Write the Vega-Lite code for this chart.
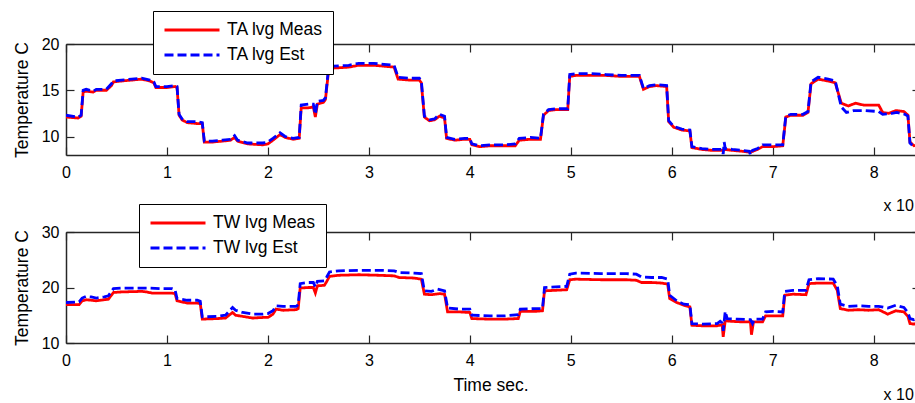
{
"$schema":"https://vega.github.io/schema/vega-lite/v6.json",
"padding":{"left":13,"top":10,"right":0,"bottom":0},
"background":"white",
"bounds":"flush",
"spacing":77,
"config":{
 "font":"Liberation Sans",
 "view":{"stroke":null},
 "axis":{"labelFont":"Liberation Sans","labelFontSize":16,"labelColor":"black","titleFont":"Liberation Sans","titleFontSize":17.5,"titleFontWeight":"normal","titleColor":"black","grid":false,"domainColor":"#262626","tickColor":"#262626","domainWidth":1.5,"tickWidth":1.2,"labelFlush":false,"labelOverlap":false},
 "title":{"font":"Liberation Sans","fontSize":16,"fontWeight":"normal","color":"black"},
 "legend":{"title":null,"symbolType":"stroke","symbolSize":3025,"symbolStrokeWidth":2.8,"labelFontSize":17.5,"labelFont":"Liberation Sans","labelColor":"black","strokeColor":"black","fillColor":"white","padding":10,"rowPadding":7,"clipHeight":18,"labelOffset":6,"labelLimit":300,"cornerRadius":0}
},
"vconcat":[
{
 "width":849,"height":111,
 "title":{"text":"x 10","orient":"bottom","anchor":"end","align":"left","dx":-32,"offset":18},
 "data":{"values":[
{"t":0.00,"v":12.1,"s":"TA lvg Meas"},{"t":0.12,"v":12.0,"s":"TA lvg Meas"},{"t":0.15,"v":12.2,"s":"TA lvg Meas"},{"t":0.17,"v":14.8,"s":"TA lvg Meas"},{"t":0.20,"v":14.9,"s":"TA lvg Meas"},{"t":0.27,"v":14.8,"s":"TA lvg Meas"},{"t":0.30,"v":15.0,"s":"TA lvg Meas"},{"t":0.40,"v":15.0,"s":"TA lvg Meas"},{"t":0.45,"v":15.5,"s":"TA lvg Meas"},{"t":0.47,"v":15.9,"s":"TA lvg Meas"},{"t":0.55,"v":16.0,"s":"TA lvg Meas"},{"t":0.65,"v":16.1,"s":"TA lvg Meas"},{"t":0.75,"v":16.2,"s":"TA lvg Meas"},{"t":0.83,"v":16.0,"s":"TA lvg Meas"},{"t":0.87,"v":15.8,"s":"TA lvg Meas"},{"t":0.89,"v":15.3,"s":"TA lvg Meas"},{"t":1.00,"v":15.3,"s":"TA lvg Meas"},{"t":1.08,"v":15.4,"s":"TA lvg Meas"},{"t":1.10,"v":15.3,"s":"TA lvg Meas"},{"t":1.12,"v":12.3,"s":"TA lvg Meas"},{"t":1.15,"v":11.8,"s":"TA lvg Meas"},{"t":1.20,"v":11.5,"s":"TA lvg Meas"},{"t":1.30,"v":11.4,"s":"TA lvg Meas"},{"t":1.35,"v":11.4,"s":"TA lvg Meas"},{"t":1.37,"v":9.4,"s":"TA lvg Meas"},{"t":1.45,"v":9.4,"s":"TA lvg Meas"},{"t":1.55,"v":9.5,"s":"TA lvg Meas"},{"t":1.63,"v":9.6,"s":"TA lvg Meas"},{"t":1.67,"v":9.9,"s":"TA lvg Meas"},{"t":1.70,"v":9.5,"s":"TA lvg Meas"},{"t":1.80,"v":9.2,"s":"TA lvg Meas"},{"t":1.95,"v":9.1,"s":"TA lvg Meas"},{"t":2.00,"v":9.2,"s":"TA lvg Meas"},{"t":2.05,"v":9.6,"s":"TA lvg Meas"},{"t":2.12,"v":10.2,"s":"TA lvg Meas"},{"t":2.17,"v":9.9,"s":"TA lvg Meas"},{"t":2.25,"v":9.7,"s":"TA lvg Meas"},{"t":2.31,"v":9.8,"s":"TA lvg Meas"},{"t":2.33,"v":13.1,"s":"TA lvg Meas"},{"t":2.40,"v":13.1,"s":"TA lvg Meas"},{"t":2.45,"v":13.2,"s":"TA lvg Meas"},{"t":2.47,"v":12.1,"s":"TA lvg Meas"},{"t":2.49,"v":13.5,"s":"TA lvg Meas"},{"t":2.55,"v":13.7,"s":"TA lvg Meas"},{"t":2.57,"v":14.0,"s":"TA lvg Meas"},{"t":2.60,"v":17.0,"s":"TA lvg Meas"},{"t":2.65,"v":17.4,"s":"TA lvg Meas"},{"t":2.80,"v":17.5,"s":"TA lvg Meas"},{"t":2.90,"v":17.7,"s":"TA lvg Meas"},{"t":3.05,"v":17.7,"s":"TA lvg Meas"},{"t":3.15,"v":17.6,"s":"TA lvg Meas"},{"t":3.25,"v":17.5,"s":"TA lvg Meas"},{"t":3.29,"v":16.2,"s":"TA lvg Meas"},{"t":3.40,"v":16.1,"s":"TA lvg Meas"},{"t":3.50,"v":16.1,"s":"TA lvg Meas"},{"t":3.52,"v":15.8,"s":"TA lvg Meas"},{"t":3.55,"v":12.1,"s":"TA lvg Meas"},{"t":3.60,"v":11.7,"s":"TA lvg Meas"},{"t":3.65,"v":11.8,"s":"TA lvg Meas"},{"t":3.70,"v":12.2,"s":"TA lvg Meas"},{"t":3.75,"v":12.0,"s":"TA lvg Meas"},{"t":3.77,"v":9.8,"s":"TA lvg Meas"},{"t":3.85,"v":9.6,"s":"TA lvg Meas"},{"t":3.95,"v":9.7,"s":"TA lvg Meas"},{"t":4.00,"v":9.7,"s":"TA lvg Meas"},{"t":4.02,"v":9.1,"s":"TA lvg Meas"},{"t":4.10,"v":8.9,"s":"TA lvg Meas"},{"t":4.20,"v":9.0,"s":"TA lvg Meas"},{"t":4.35,"v":9.0,"s":"TA lvg Meas"},{"t":4.45,"v":9.0,"s":"TA lvg Meas"},{"t":4.49,"v":9.6,"s":"TA lvg Meas"},{"t":4.60,"v":9.7,"s":"TA lvg Meas"},{"t":4.70,"v":9.7,"s":"TA lvg Meas"},{"t":4.73,"v":12.3,"s":"TA lvg Meas"},{"t":4.78,"v":12.8,"s":"TA lvg Meas"},{"t":4.85,"v":12.9,"s":"TA lvg Meas"},{"t":4.97,"v":12.9,"s":"TA lvg Meas"},{"t":4.99,"v":16.5,"s":"TA lvg Meas"},{"t":5.05,"v":16.6,"s":"TA lvg Meas"},{"t":5.20,"v":16.6,"s":"TA lvg Meas"},{"t":5.35,"v":16.6,"s":"TA lvg Meas"},{"t":5.50,"v":16.5,"s":"TA lvg Meas"},{"t":5.68,"v":16.5,"s":"TA lvg Meas"},{"t":5.72,"v":15.1,"s":"TA lvg Meas"},{"t":5.78,"v":15.4,"s":"TA lvg Meas"},{"t":5.85,"v":15.5,"s":"TA lvg Meas"},{"t":5.95,"v":15.4,"s":"TA lvg Meas"},{"t":5.97,"v":11.6,"s":"TA lvg Meas"},{"t":6.02,"v":11.0,"s":"TA lvg Meas"},{"t":6.10,"v":10.7,"s":"TA lvg Meas"},{"t":6.18,"v":10.6,"s":"TA lvg Meas"},{"t":6.20,"v":8.8,"s":"TA lvg Meas"},{"t":6.30,"v":8.6,"s":"TA lvg Meas"},{"t":6.40,"v":8.5,"s":"TA lvg Meas"},{"t":6.50,"v":8.5,"s":"TA lvg Meas"},{"t":6.53,"v":8.6,"s":"TA lvg Meas"},{"t":6.60,"v":8.5,"s":"TA lvg Meas"},{"t":6.70,"v":8.4,"s":"TA lvg Meas"},{"t":6.78,"v":8.3,"s":"TA lvg Meas"},{"t":6.85,"v":8.6,"s":"TA lvg Meas"},{"t":6.90,"v":8.9,"s":"TA lvg Meas"},{"t":7.00,"v":8.9,"s":"TA lvg Meas"},{"t":7.10,"v":9.0,"s":"TA lvg Meas"},{"t":7.13,"v":12.1,"s":"TA lvg Meas"},{"t":7.18,"v":12.3,"s":"TA lvg Meas"},{"t":7.30,"v":12.3,"s":"TA lvg Meas"},{"t":7.35,"v":12.6,"s":"TA lvg Meas"},{"t":7.38,"v":15.7,"s":"TA lvg Meas"},{"t":7.45,"v":16.2,"s":"TA lvg Meas"},{"t":7.55,"v":16.0,"s":"TA lvg Meas"},{"t":7.62,"v":15.8,"s":"TA lvg Meas"},{"t":7.68,"v":13.6,"s":"TA lvg Meas"},{"t":7.75,"v":13.3,"s":"TA lvg Meas"},{"t":7.82,"v":13.6,"s":"TA lvg Meas"},{"t":7.90,"v":13.4,"s":"TA lvg Meas"},{"t":8.05,"v":13.4,"s":"TA lvg Meas"},{"t":8.09,"v":12.6,"s":"TA lvg Meas"},{"t":8.15,"v":12.5,"s":"TA lvg Meas"},{"t":8.22,"v":12.8,"s":"TA lvg Meas"},{"t":8.30,"v":12.7,"s":"TA lvg Meas"},{"t":8.34,"v":12.3,"s":"TA lvg Meas"},{"t":8.36,"v":9.4,"s":"TA lvg Meas"},{"t":8.40,"v":9.0,"s":"TA lvg Meas"},{"t":8.45,"v":9.1,"s":"TA lvg Meas"},
{"t":0.00,"v":12.3,"s":"TA lvg Est"},{"t":0.12,"v":12.1,"s":"TA lvg Est"},{"t":0.15,"v":12.3,"s":"TA lvg Est"},{"t":0.17,"v":15.0,"s":"TA lvg Est"},{"t":0.20,"v":15.1,"s":"TA lvg Est"},{"t":0.27,"v":14.9,"s":"TA lvg Est"},{"t":0.30,"v":15.1,"s":"TA lvg Est"},{"t":0.40,"v":15.1,"s":"TA lvg Est"},{"t":0.45,"v":15.7,"s":"TA lvg Est"},{"t":0.47,"v":16.0,"s":"TA lvg Est"},{"t":0.55,"v":16.1,"s":"TA lvg Est"},{"t":0.65,"v":16.2,"s":"TA lvg Est"},{"t":0.75,"v":16.3,"s":"TA lvg Est"},{"t":0.83,"v":16.1,"s":"TA lvg Est"},{"t":0.87,"v":15.9,"s":"TA lvg Est"},{"t":0.89,"v":15.4,"s":"TA lvg Est"},{"t":1.00,"v":15.4,"s":"TA lvg Est"},{"t":1.08,"v":15.5,"s":"TA lvg Est"},{"t":1.10,"v":15.4,"s":"TA lvg Est"},{"t":1.12,"v":12.4,"s":"TA lvg Est"},{"t":1.15,"v":11.9,"s":"TA lvg Est"},{"t":1.20,"v":11.6,"s":"TA lvg Est"},{"t":1.30,"v":11.6,"s":"TA lvg Est"},{"t":1.35,"v":11.5,"s":"TA lvg Est"},{"t":1.37,"v":9.5,"s":"TA lvg Est"},{"t":1.45,"v":9.5,"s":"TA lvg Est"},{"t":1.55,"v":9.6,"s":"TA lvg Est"},{"t":1.63,"v":9.7,"s":"TA lvg Est"},{"t":1.67,"v":10.1,"s":"TA lvg Est"},{"t":1.70,"v":9.6,"s":"TA lvg Est"},{"t":1.80,"v":9.3,"s":"TA lvg Est"},{"t":1.95,"v":9.3,"s":"TA lvg Est"},{"t":2.00,"v":9.4,"s":"TA lvg Est"},{"t":2.05,"v":9.8,"s":"TA lvg Est"},{"t":2.12,"v":10.4,"s":"TA lvg Est"},{"t":2.17,"v":10.0,"s":"TA lvg Est"},{"t":2.25,"v":9.8,"s":"TA lvg Est"},{"t":2.31,"v":9.9,"s":"TA lvg Est"},{"t":2.33,"v":13.4,"s":"TA lvg Est"},{"t":2.40,"v":13.5,"s":"TA lvg Est"},{"t":2.45,"v":13.5,"s":"TA lvg Est"},{"t":2.47,"v":12.4,"s":"TA lvg Est"},{"t":2.49,"v":13.8,"s":"TA lvg Est"},{"t":2.55,"v":13.9,"s":"TA lvg Est"},{"t":2.57,"v":14.2,"s":"TA lvg Est"},{"t":2.60,"v":17.3,"s":"TA lvg Est"},{"t":2.65,"v":17.6,"s":"TA lvg Est"},{"t":2.80,"v":17.7,"s":"TA lvg Est"},{"t":2.90,"v":17.9,"s":"TA lvg Est"},{"t":3.05,"v":17.9,"s":"TA lvg Est"},{"t":3.15,"v":17.8,"s":"TA lvg Est"},{"t":3.25,"v":17.7,"s":"TA lvg Est"},{"t":3.29,"v":16.4,"s":"TA lvg Est"},{"t":3.40,"v":16.3,"s":"TA lvg Est"},{"t":3.50,"v":16.3,"s":"TA lvg Est"},{"t":3.52,"v":16.0,"s":"TA lvg Est"},{"t":3.55,"v":12.2,"s":"TA lvg Est"},{"t":3.60,"v":11.8,"s":"TA lvg Est"},{"t":3.65,"v":11.9,"s":"TA lvg Est"},{"t":3.70,"v":12.4,"s":"TA lvg Est"},{"t":3.75,"v":12.2,"s":"TA lvg Est"},{"t":3.77,"v":9.9,"s":"TA lvg Est"},{"t":3.85,"v":9.7,"s":"TA lvg Est"},{"t":3.95,"v":9.8,"s":"TA lvg Est"},{"t":4.00,"v":9.8,"s":"TA lvg Est"},{"t":4.02,"v":9.2,"s":"TA lvg Est"},{"t":4.10,"v":9.0,"s":"TA lvg Est"},{"t":4.20,"v":9.1,"s":"TA lvg Est"},{"t":4.35,"v":9.1,"s":"TA lvg Est"},{"t":4.45,"v":9.2,"s":"TA lvg Est"},{"t":4.49,"v":9.8,"s":"TA lvg Est"},{"t":4.60,"v":9.9,"s":"TA lvg Est"},{"t":4.70,"v":9.8,"s":"TA lvg Est"},{"t":4.73,"v":12.4,"s":"TA lvg Est"},{"t":4.78,"v":12.9,"s":"TA lvg Est"},{"t":4.85,"v":13.0,"s":"TA lvg Est"},{"t":4.97,"v":13.0,"s":"TA lvg Est"},{"t":4.99,"v":16.7,"s":"TA lvg Est"},{"t":5.05,"v":16.8,"s":"TA lvg Est"},{"t":5.20,"v":16.8,"s":"TA lvg Est"},{"t":5.35,"v":16.7,"s":"TA lvg Est"},{"t":5.50,"v":16.6,"s":"TA lvg Est"},{"t":5.68,"v":16.6,"s":"TA lvg Est"},{"t":5.72,"v":15.2,"s":"TA lvg Est"},{"t":5.78,"v":15.5,"s":"TA lvg Est"},{"t":5.85,"v":15.6,"s":"TA lvg Est"},{"t":5.95,"v":15.5,"s":"TA lvg Est"},{"t":5.97,"v":11.7,"s":"TA lvg Est"},{"t":6.02,"v":11.1,"s":"TA lvg Est"},{"t":6.10,"v":10.8,"s":"TA lvg Est"},{"t":6.18,"v":10.7,"s":"TA lvg Est"},{"t":6.20,"v":8.9,"s":"TA lvg Est"},{"t":6.30,"v":8.7,"s":"TA lvg Est"},{"t":6.40,"v":8.6,"s":"TA lvg Est"},{"t":6.50,"v":8.6,"s":"TA lvg Est"},{"t":6.51,"v":8.1,"s":"TA lvg Est"},{"t":6.52,"v":9.4,"s":"TA lvg Est"},{"t":6.53,"v":8.7,"s":"TA lvg Est"},{"t":6.60,"v":8.6,"s":"TA lvg Est"},{"t":6.70,"v":8.5,"s":"TA lvg Est"},{"t":6.77,"v":8.4,"s":"TA lvg Est"},{"t":6.78,"v":8.0,"s":"TA lvg Est"},{"t":6.80,"v":8.5,"s":"TA lvg Est"},{"t":6.85,"v":8.7,"s":"TA lvg Est"},{"t":6.90,"v":9.1,"s":"TA lvg Est"},{"t":7.00,"v":9.1,"s":"TA lvg Est"},{"t":7.10,"v":9.1,"s":"TA lvg Est"},{"t":7.13,"v":12.2,"s":"TA lvg Est"},{"t":7.18,"v":12.4,"s":"TA lvg Est"},{"t":7.30,"v":12.4,"s":"TA lvg Est"},{"t":7.35,"v":12.7,"s":"TA lvg Est"},{"t":7.38,"v":15.9,"s":"TA lvg Est"},{"t":7.45,"v":16.4,"s":"TA lvg Est"},{"t":7.55,"v":16.2,"s":"TA lvg Est"},{"t":7.62,"v":16.0,"s":"TA lvg Est"},{"t":7.68,"v":13.2,"s":"TA lvg Est"},{"t":7.73,"v":12.6,"s":"TA lvg Est"},{"t":7.80,"v":12.8,"s":"TA lvg Est"},{"t":7.92,"v":12.8,"s":"TA lvg Est"},{"t":8.05,"v":12.7,"s":"TA lvg Est"},{"t":8.09,"v":12.4,"s":"TA lvg Est"},{"t":8.18,"v":12.5,"s":"TA lvg Est"},{"t":8.23,"v":12.6,"s":"TA lvg Est"},{"t":8.31,"v":12.4,"s":"TA lvg Est"},{"t":8.34,"v":12.2,"s":"TA lvg Est"},{"t":8.36,"v":9.3,"s":"TA lvg Est"},{"t":8.40,"v":8.9,"s":"TA lvg Est"},{"t":8.45,"v":9.0,"s":"TA lvg Est"}
 ]},
 "layer":[
  {"transform":[{"filter":"datum.s === 'TA lvg Meas'"}],
   "mark":{"type":"line","clip":true,"strokeWidth":2.8},
   "encoding":{
    "x":{"field":"t","type":"quantitative","scale":{"domain":[0,8.41],"nice":false,"zero":false},"axis":{"orient":"bottom","values":[0,1,2,3,4,5,6,7,8],"tickSize":-8,"labelPadding":17,"title":null}},
    "y":{"field":"v","type":"quantitative","scale":{"domain":[8,20],"nice":false,"zero":false},"axis":{"orient":"left","values":[10,15,20],"tickSize":-8,"labelPadding":15,"title":"Temperature C","titlePadding":10}},
    "color":{"field":"s","type":"nominal","scale":{"domain":["TA lvg Meas","TA lvg Est"],"range":["#ff0000","#0000ff"]},"legend":{"orient":"none","legendX":87,"legendY":-33}},
    "strokeDash":{"field":"s","type":"nominal","scale":{"domain":["TA lvg Meas","TA lvg Est"],"range":[[1,0],[9,4]]},"legend":{"orient":"none","legendX":87,"legendY":-33}}
   }},
  {"transform":[{"filter":"datum.s === 'TA lvg Est'"}],
   "mark":{"type":"line","clip":true,"strokeWidth":2.8},
   "encoding":{
    "x":{"field":"t","type":"quantitative","scale":{"domain":[0,8.41],"nice":false,"zero":false},"axis":{"orient":"top","values":[0,1,2,3,4,5,6,7,8],"tickSize":-8,"labels":false,"title":null}},
    "y":{"field":"v","type":"quantitative","scale":{"domain":[8,20],"nice":false,"zero":false},"axis":{"orient":"right","values":[10,15,20],"tickSize":-3,"labels":false,"domain":false,"title":null}},
    "color":{"field":"s","type":"nominal","scale":{"domain":["TA lvg Meas","TA lvg Est"],"range":["#ff0000","#0000ff"]},"legend":{"orient":"none","legendX":87,"legendY":-33}},
    "strokeDash":{"field":"s","type":"nominal","scale":{"domain":["TA lvg Meas","TA lvg Est"],"range":[[1,0],[9,4]]},"legend":{"orient":"none","legendX":87,"legendY":-33}}
   }}
 ],
 "resolve":{"axis":{"x":"independent","y":"independent"}}
},
{
 "width":849,"height":111,
 "title":{"text":"x 10","orient":"bottom","anchor":"end","align":"left","dx":-32,"offset":-7},
 "data":{"values":[
{"t":0.00,"v":16.9,"s":"TW lvg Meas"},{"t":0.13,"v":16.9,"s":"TW lvg Meas"},{"t":0.16,"v":17.6,"s":"TW lvg Meas"},{"t":0.20,"v":17.8,"s":"TW lvg Meas"},{"t":0.30,"v":17.6,"s":"TW lvg Meas"},{"t":0.38,"v":17.8,"s":"TW lvg Meas"},{"t":0.42,"v":17.9,"s":"TW lvg Meas"},{"t":0.47,"v":19.1,"s":"TW lvg Meas"},{"t":0.55,"v":19.2,"s":"TW lvg Meas"},{"t":0.75,"v":19.3,"s":"TW lvg Meas"},{"t":0.80,"v":19.2,"s":"TW lvg Meas"},{"t":0.85,"v":19.0,"s":"TW lvg Meas"},{"t":0.95,"v":19.0,"s":"TW lvg Meas"},{"t":1.05,"v":19.0,"s":"TW lvg Meas"},{"t":1.08,"v":18.9,"s":"TW lvg Meas"},{"t":1.10,"v":17.6,"s":"TW lvg Meas"},{"t":1.20,"v":17.2,"s":"TW lvg Meas"},{"t":1.30,"v":17.2,"s":"TW lvg Meas"},{"t":1.33,"v":17.1,"s":"TW lvg Meas"},{"t":1.35,"v":14.3,"s":"TW lvg Meas"},{"t":1.50,"v":14.4,"s":"TW lvg Meas"},{"t":1.58,"v":14.5,"s":"TW lvg Meas"},{"t":1.65,"v":15.5,"s":"TW lvg Meas"},{"t":1.68,"v":15.0,"s":"TW lvg Meas"},{"t":1.75,"v":14.8,"s":"TW lvg Meas"},{"t":1.85,"v":14.5,"s":"TW lvg Meas"},{"t":1.95,"v":14.6,"s":"TW lvg Meas"},{"t":2.00,"v":14.6,"s":"TW lvg Meas"},{"t":2.05,"v":15.2,"s":"TW lvg Meas"},{"t":2.08,"v":16.1,"s":"TW lvg Meas"},{"t":2.15,"v":15.9,"s":"TW lvg Meas"},{"t":2.28,"v":16.0,"s":"TW lvg Meas"},{"t":2.30,"v":16.2,"s":"TW lvg Meas"},{"t":2.32,"v":19.9,"s":"TW lvg Meas"},{"t":2.40,"v":20.0,"s":"TW lvg Meas"},{"t":2.45,"v":20.0,"s":"TW lvg Meas"},{"t":2.47,"v":19.0,"s":"TW lvg Meas"},{"t":2.49,"v":20.3,"s":"TW lvg Meas"},{"t":2.56,"v":20.4,"s":"TW lvg Meas"},{"t":2.58,"v":21.0,"s":"TW lvg Meas"},{"t":2.61,"v":22.0,"s":"TW lvg Meas"},{"t":2.70,"v":22.2,"s":"TW lvg Meas"},{"t":2.90,"v":22.3,"s":"TW lvg Meas"},{"t":3.10,"v":22.2,"s":"TW lvg Meas"},{"t":3.25,"v":22.1,"s":"TW lvg Meas"},{"t":3.30,"v":21.8,"s":"TW lvg Meas"},{"t":3.45,"v":21.7,"s":"TW lvg Meas"},{"t":3.52,"v":21.5,"s":"TW lvg Meas"},{"t":3.55,"v":18.8,"s":"TW lvg Meas"},{"t":3.62,"v":18.7,"s":"TW lvg Meas"},{"t":3.70,"v":18.9,"s":"TW lvg Meas"},{"t":3.75,"v":18.8,"s":"TW lvg Meas"},{"t":3.78,"v":15.6,"s":"TW lvg Meas"},{"t":3.90,"v":15.6,"s":"TW lvg Meas"},{"t":4.00,"v":15.5,"s":"TW lvg Meas"},{"t":4.02,"v":14.4,"s":"TW lvg Meas"},{"t":4.20,"v":14.3,"s":"TW lvg Meas"},{"t":4.35,"v":14.3,"s":"TW lvg Meas"},{"t":4.48,"v":14.4,"s":"TW lvg Meas"},{"t":4.50,"v":15.7,"s":"TW lvg Meas"},{"t":4.65,"v":15.7,"s":"TW lvg Meas"},{"t":4.72,"v":15.8,"s":"TW lvg Meas"},{"t":4.74,"v":19.4,"s":"TW lvg Meas"},{"t":4.85,"v":19.5,"s":"TW lvg Meas"},{"t":4.96,"v":19.6,"s":"TW lvg Meas"},{"t":4.99,"v":21.4,"s":"TW lvg Meas"},{"t":5.05,"v":21.5,"s":"TW lvg Meas"},{"t":5.30,"v":21.4,"s":"TW lvg Meas"},{"t":5.55,"v":21.4,"s":"TW lvg Meas"},{"t":5.65,"v":21.3,"s":"TW lvg Meas"},{"t":5.70,"v":20.9,"s":"TW lvg Meas"},{"t":5.80,"v":20.9,"s":"TW lvg Meas"},{"t":5.90,"v":20.8,"s":"TW lvg Meas"},{"t":5.96,"v":20.6,"s":"TW lvg Meas"},{"t":5.98,"v":18.0,"s":"TW lvg Meas"},{"t":6.05,"v":17.3,"s":"TW lvg Meas"},{"t":6.12,"v":16.8,"s":"TW lvg Meas"},{"t":6.18,"v":16.5,"s":"TW lvg Meas"},{"t":6.20,"v":13.2,"s":"TW lvg Meas"},{"t":6.30,"v":13.1,"s":"TW lvg Meas"},{"t":6.45,"v":13.1,"s":"TW lvg Meas"},{"t":6.50,"v":13.3,"s":"TW lvg Meas"},{"t":6.51,"v":11.1,"s":"TW lvg Meas"},{"t":6.53,"v":14.0,"s":"TW lvg Meas"},{"t":6.60,"v":13.9,"s":"TW lvg Meas"},{"t":6.70,"v":13.8,"s":"TW lvg Meas"},{"t":6.78,"v":13.8,"s":"TW lvg Meas"},{"t":6.79,"v":11.5,"s":"TW lvg Meas"},{"t":6.81,"v":13.8,"s":"TW lvg Meas"},{"t":6.90,"v":13.8,"s":"TW lvg Meas"},{"t":6.93,"v":14.9,"s":"TW lvg Meas"},{"t":7.00,"v":14.9,"s":"TW lvg Meas"},{"t":7.10,"v":14.9,"s":"TW lvg Meas"},{"t":7.12,"v":18.6,"s":"TW lvg Meas"},{"t":7.20,"v":18.8,"s":"TW lvg Meas"},{"t":7.33,"v":18.7,"s":"TW lvg Meas"},{"t":7.36,"v":20.7,"s":"TW lvg Meas"},{"t":7.45,"v":20.8,"s":"TW lvg Meas"},{"t":7.60,"v":20.8,"s":"TW lvg Meas"},{"t":7.64,"v":19.5,"s":"TW lvg Meas"},{"t":7.67,"v":16.2,"s":"TW lvg Meas"},{"t":7.75,"v":15.9,"s":"TW lvg Meas"},{"t":7.85,"v":16.0,"s":"TW lvg Meas"},{"t":7.95,"v":15.9,"s":"TW lvg Meas"},{"t":8.05,"v":16.0,"s":"TW lvg Meas"},{"t":8.14,"v":15.2,"s":"TW lvg Meas"},{"t":8.22,"v":15.8,"s":"TW lvg Meas"},{"t":8.30,"v":15.6,"s":"TW lvg Meas"},{"t":8.34,"v":14.8,"s":"TW lvg Meas"},{"t":8.36,"v":13.5,"s":"TW lvg Meas"},{"t":8.40,"v":13.4,"s":"TW lvg Meas"},{"t":8.45,"v":13.8,"s":"TW lvg Meas"},
{"t":0.00,"v":17.3,"s":"TW lvg Est"},{"t":0.13,"v":17.4,"s":"TW lvg Est"},{"t":0.16,"v":18.1,"s":"TW lvg Est"},{"t":0.20,"v":18.4,"s":"TW lvg Est"},{"t":0.25,"v":18.3,"s":"TW lvg Est"},{"t":0.30,"v":18.1,"s":"TW lvg Est"},{"t":0.38,"v":18.3,"s":"TW lvg Est"},{"t":0.42,"v":18.5,"s":"TW lvg Est"},{"t":0.47,"v":19.8,"s":"TW lvg Est"},{"t":0.55,"v":19.9,"s":"TW lvg Est"},{"t":0.80,"v":19.9,"s":"TW lvg Est"},{"t":0.95,"v":19.8,"s":"TW lvg Est"},{"t":1.05,"v":19.8,"s":"TW lvg Est"},{"t":1.08,"v":19.6,"s":"TW lvg Est"},{"t":1.10,"v":18.0,"s":"TW lvg Est"},{"t":1.20,"v":17.7,"s":"TW lvg Est"},{"t":1.30,"v":17.7,"s":"TW lvg Est"},{"t":1.33,"v":17.5,"s":"TW lvg Est"},{"t":1.35,"v":14.7,"s":"TW lvg Est"},{"t":1.50,"v":14.8,"s":"TW lvg Est"},{"t":1.58,"v":15.0,"s":"TW lvg Est"},{"t":1.65,"v":16.4,"s":"TW lvg Est"},{"t":1.68,"v":15.9,"s":"TW lvg Est"},{"t":1.75,"v":15.5,"s":"TW lvg Est"},{"t":1.85,"v":15.2,"s":"TW lvg Est"},{"t":1.95,"v":15.2,"s":"TW lvg Est"},{"t":2.00,"v":15.3,"s":"TW lvg Est"},{"t":2.05,"v":15.8,"s":"TW lvg Est"},{"t":2.08,"v":16.7,"s":"TW lvg Est"},{"t":2.15,"v":16.6,"s":"TW lvg Est"},{"t":2.28,"v":16.6,"s":"TW lvg Est"},{"t":2.30,"v":16.9,"s":"TW lvg Est"},{"t":2.32,"v":20.7,"s":"TW lvg Est"},{"t":2.40,"v":20.9,"s":"TW lvg Est"},{"t":2.45,"v":20.9,"s":"TW lvg Est"},{"t":2.47,"v":20.1,"s":"TW lvg Est"},{"t":2.49,"v":21.1,"s":"TW lvg Est"},{"t":2.56,"v":21.2,"s":"TW lvg Est"},{"t":2.58,"v":21.8,"s":"TW lvg Est"},{"t":2.61,"v":22.8,"s":"TW lvg Est"},{"t":2.70,"v":23.0,"s":"TW lvg Est"},{"t":2.90,"v":23.1,"s":"TW lvg Est"},{"t":3.10,"v":23.1,"s":"TW lvg Est"},{"t":3.25,"v":23.0,"s":"TW lvg Est"},{"t":3.30,"v":22.7,"s":"TW lvg Est"},{"t":3.45,"v":22.6,"s":"TW lvg Est"},{"t":3.52,"v":22.5,"s":"TW lvg Est"},{"t":3.55,"v":19.4,"s":"TW lvg Est"},{"t":3.62,"v":19.3,"s":"TW lvg Est"},{"t":3.68,"v":19.7,"s":"TW lvg Est"},{"t":3.75,"v":19.4,"s":"TW lvg Est"},{"t":3.78,"v":16.3,"s":"TW lvg Est"},{"t":3.90,"v":16.1,"s":"TW lvg Est"},{"t":4.00,"v":16.1,"s":"TW lvg Est"},{"t":4.02,"v":15.0,"s":"TW lvg Est"},{"t":4.20,"v":14.9,"s":"TW lvg Est"},{"t":4.35,"v":14.9,"s":"TW lvg Est"},{"t":4.48,"v":15.1,"s":"TW lvg Est"},{"t":4.50,"v":16.1,"s":"TW lvg Est"},{"t":4.65,"v":16.2,"s":"TW lvg Est"},{"t":4.72,"v":16.2,"s":"TW lvg Est"},{"t":4.74,"v":20.0,"s":"TW lvg Est"},{"t":4.85,"v":20.1,"s":"TW lvg Est"},{"t":4.96,"v":20.2,"s":"TW lvg Est"},{"t":4.99,"v":22.4,"s":"TW lvg Est"},{"t":5.05,"v":22.6,"s":"TW lvg Est"},{"t":5.30,"v":22.5,"s":"TW lvg Est"},{"t":5.55,"v":22.5,"s":"TW lvg Est"},{"t":5.65,"v":22.4,"s":"TW lvg Est"},{"t":5.70,"v":21.9,"s":"TW lvg Est"},{"t":5.80,"v":21.8,"s":"TW lvg Est"},{"t":5.90,"v":21.8,"s":"TW lvg Est"},{"t":5.96,"v":21.5,"s":"TW lvg Est"},{"t":5.98,"v":18.6,"s":"TW lvg Est"},{"t":6.05,"v":17.6,"s":"TW lvg Est"},{"t":6.12,"v":17.0,"s":"TW lvg Est"},{"t":6.18,"v":16.9,"s":"TW lvg Est"},{"t":6.20,"v":13.5,"s":"TW lvg Est"},{"t":6.30,"v":13.4,"s":"TW lvg Est"},{"t":6.45,"v":13.5,"s":"TW lvg Est"},{"t":6.48,"v":13.9,"s":"TW lvg Est"},{"t":6.50,"v":13.6,"s":"TW lvg Est"},{"t":6.51,"v":12.2,"s":"TW lvg Est"},{"t":6.53,"v":15.7,"s":"TW lvg Est"},{"t":6.55,"v":14.4,"s":"TW lvg Est"},{"t":6.65,"v":14.3,"s":"TW lvg Est"},{"t":6.78,"v":14.2,"s":"TW lvg Est"},{"t":6.80,"v":13.5,"s":"TW lvg Est"},{"t":6.82,"v":14.3,"s":"TW lvg Est"},{"t":6.90,"v":14.3,"s":"TW lvg Est"},{"t":6.93,"v":15.6,"s":"TW lvg Est"},{"t":7.00,"v":15.7,"s":"TW lvg Est"},{"t":7.10,"v":15.6,"s":"TW lvg Est"},{"t":7.12,"v":19.3,"s":"TW lvg Est"},{"t":7.20,"v":19.5,"s":"TW lvg Est"},{"t":7.33,"v":19.5,"s":"TW lvg Est"},{"t":7.36,"v":21.4,"s":"TW lvg Est"},{"t":7.45,"v":21.6,"s":"TW lvg Est"},{"t":7.60,"v":21.5,"s":"TW lvg Est"},{"t":7.64,"v":20.3,"s":"TW lvg Est"},{"t":7.67,"v":17.0,"s":"TW lvg Est"},{"t":7.75,"v":16.6,"s":"TW lvg Est"},{"t":7.85,"v":16.7,"s":"TW lvg Est"},{"t":7.95,"v":16.6,"s":"TW lvg Est"},{"t":8.05,"v":16.6,"s":"TW lvg Est"},{"t":8.14,"v":16.3,"s":"TW lvg Est"},{"t":8.22,"v":16.8,"s":"TW lvg Est"},{"t":8.30,"v":16.4,"s":"TW lvg Est"},{"t":8.34,"v":15.5,"s":"TW lvg Est"},{"t":8.36,"v":14.4,"s":"TW lvg Est"},{"t":8.40,"v":14.2,"s":"TW lvg Est"},{"t":8.45,"v":14.5,"s":"TW lvg Est"}
 ]},
 "layer":[
  {"transform":[{"filter":"datum.s === 'TW lvg Meas'"}],
   "mark":{"type":"line","clip":true,"strokeWidth":2.8},
   "encoding":{
    "x":{"field":"t","type":"quantitative","scale":{"domain":[0,8.41],"nice":false,"zero":false},"axis":{"orient":"bottom","values":[0,1,2,3,4,5,6,7,8],"tickSize":-8,"labelPadding":17,"title":"Time sec.","titlePadding":8}},
    "y":{"field":"v","type":"quantitative","scale":{"domain":[10,30],"nice":false,"zero":false},"axis":{"orient":"left","values":[10,20,30],"tickSize":-8,"labelPadding":15,"title":"Temperature C","titlePadding":10}},
    "color":{"field":"s","type":"nominal","scale":{"domain":["TW lvg Meas","TW lvg Est"],"range":["#ff0000","#0000ff"]},"legend":{"orient":"none","legendX":73,"legendY":-28}},
    "strokeDash":{"field":"s","type":"nominal","scale":{"domain":["TW lvg Meas","TW lvg Est"],"range":[[1,0],[9,4]]},"legend":{"orient":"none","legendX":73,"legendY":-28}}
   }},
  {"transform":[{"filter":"datum.s === 'TW lvg Est'"}],
   "mark":{"type":"line","clip":true,"strokeWidth":2.8},
   "encoding":{
    "x":{"field":"t","type":"quantitative","scale":{"domain":[0,8.41],"nice":false,"zero":false},"axis":{"orient":"top","values":[0,1,2,3,4,5,6,7,8],"tickSize":-8,"labels":false,"title":null}},
    "y":{"field":"v","type":"quantitative","scale":{"domain":[10,30],"nice":false,"zero":false},"axis":{"orient":"right","values":[10,20,30],"tickSize":-3,"labels":false,"domain":false,"title":null}},
    "color":{"field":"s","type":"nominal","scale":{"domain":["TW lvg Meas","TW lvg Est"],"range":["#ff0000","#0000ff"]},"legend":{"orient":"none","legendX":73,"legendY":-28}},
    "strokeDash":{"field":"s","type":"nominal","scale":{"domain":["TW lvg Meas","TW lvg Est"],"range":[[1,0],[9,4]]},"legend":{"orient":"none","legendX":73,"legendY":-28}}
   }}
 ],
 "resolve":{"axis":{"x":"independent","y":"independent"}}
}
],
"resolve":{"scale":{"color":"independent","strokeDash":"independent"}}
}
